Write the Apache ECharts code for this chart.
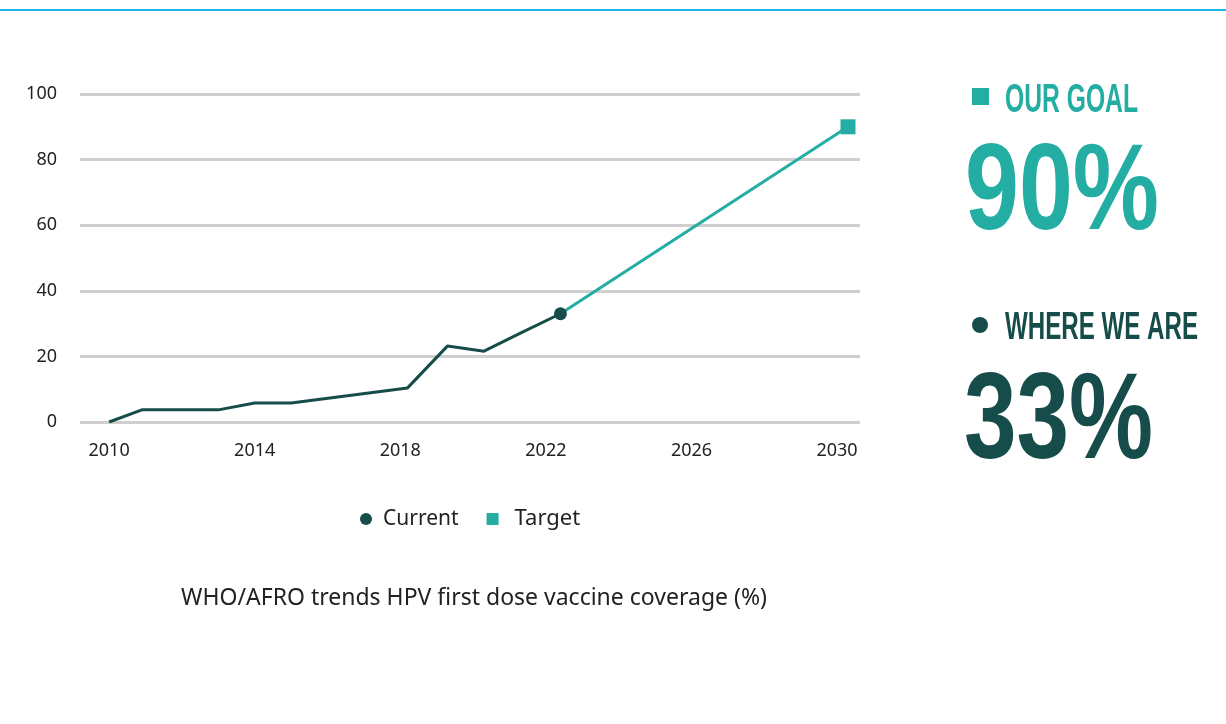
<!DOCTYPE html>
<html>
<head>
<meta charset="utf-8">
<script src="https://cdn.jsdelivr.net/npm/echarts@6/dist/echarts.min.js"></script>
<style>
  html, body { margin: 0; padding: 0; background: #ffffff; }
  #chart { width: 1226px; height: 724px; }
</style>
</head>
<body>
<div id="chart"></div>
<script>
// HPV first dose coverage, WHO/AFRO (%)
const currentYears = [2010, 2010.9, 2013, 2014, 2015, 2018.2, 2019.3, 2020.3, 2021.3, 2022.4];
const currentValues = [0, 3.7, 3.7, 5.8, 5.8, 10.4, 23.2, 21.6, 27.1, 33];
const targetYears = [2022.4, 2030.3];
const targetValues = [33, 90];
const yearTicks = [2010, 2014, 2018, 2022, 2026, 2030];
const seriesNames = ['Current', 'Target'];
const goalValue = 90;
const nowValue = 33;
const captionText = 'WHO/AFRO trends HPV first dose vaccine coverage (%)';

const DARK = '#164d4a';
const TEAL = '#23ada3';
const INK = '#222222';
const BASE_FONT = '"Noto Sans", "Open Sans", sans-serif';

// Squeeze a bold sans into a condensed look by measuring and scaling horizontally
const measureCtx = document.createElement('canvas').getContext('2d');
function fitScale(text, font, width) {
  measureCtx.font = font;
  return width / measureCtx.measureText(text).width;
}
function condensedText(text, x, y, size, width, color) {
  const font = 'bold ' + size + 'px "Liberation Sans", Arial, sans-serif';
  return {
    type: 'text',
    x: x,
    y: y,
    scaleX: fitScale(text, font, width),
    style: {
      text: text,
      font: font,
      fill: color,
      align: 'left',
      verticalAlign: 'middle'
    }
  };
}

const chart = echarts.init(document.getElementById('chart'), null, { renderer: 'canvas' });

const pairs = (xs, ys) => xs.map((x, i) => [x, ys[i]]);

chart.setOption({
  animation: false,
  backgroundColor: '#ffffff',
  grid: { left: 80, top: 94, width: 780, height: 328, containLabel: false },
  xAxis: {
    type: 'value',
    min: 2009.2,
    max: 2030.63,
    axisLine: { show: false },
    axisTick: { show: false },
    splitLine: { show: false },
    axisLabel: {
      customValues: yearTicks,
      formatter: v => String(v),
      color: INK,
      fontSize: 18,
      fontFamily: BASE_FONT,
      margin: 20
    }
  },
  yAxis: {
    type: 'value',
    min: 0,
    max: 100,
    interval: 20,
    axisLine: { show: false },
    axisTick: { show: false },
    axisLabel: {
      color: INK,
      fontSize: 18,
      fontFamily: BASE_FONT,
      margin: 23
    },
    splitLine: { lineStyle: { color: '#cfcfcf', width: 3 } }
  },
  legend: {
    left: 355,
    top: 503,
    itemWidth: 12,
    itemHeight: 12,
    itemGap: 28,
    textStyle: { color: INK, fontSize: 21, fontFamily: BASE_FONT, padding: [0, 0, 0, 6] },
    data: [
      { name: seriesNames[0], icon: 'circle', itemStyle: { color: DARK } },
      {
        name: seriesNames[1],
        icon: 'rect',
        itemStyle: { color: TEAL },
        textStyle: { fontSize: 22, padding: [0, 0, 0, 11] }
      }
    ]
  },
  series: [
    {
      name: seriesNames[1],
      type: 'line',
      data: pairs(targetYears, targetValues),
      color: TEAL,
      lineStyle: { color: TEAL, width: 3 },
      itemStyle: { color: TEAL },
      symbol: 'rect',
      showAllSymbol: true,
      symbolSize: (v, p) => (p.dataIndex === targetValues.length - 1 ? 15 : 0),
      z: 2
    },
    {
      name: seriesNames[0],
      type: 'line',
      data: pairs(currentYears, currentValues),
      color: DARK,
      lineStyle: { color: DARK, width: 3 },
      itemStyle: { color: DARK },
      symbol: 'circle',
      showAllSymbol: true,
      symbolSize: (v, p) => (p.dataIndex === currentValues.length - 1 ? 13 : 0),
      z: 3
    }
  ],
  graphic: [
    { type: 'rect', shape: { x: 0, y: 9, width: 1226, height: 2 }, style: { fill: '#1ab7e6' } },
    { type: 'rect', shape: { x: 972, y: 88, width: 17, height: 17 }, style: { fill: TEAL } },
    condensedText('OUR GOAL', 1005, 101, 40, 133, TEAL),
    condensedText(goalValue + '%', 965, 195, 122, 194, TEAL),
    { type: 'circle', shape: { cx: 980, cy: 325, r: 8 }, style: { fill: DARK } },
    condensedText('WHERE WE ARE', 1005, 329, 38, 193, DARK),
    condensedText(nowValue + '%', 964, 424, 122, 189, DARK),
    {
      type: 'text',
      x: 474,
      y: 598,
      style: {
        text: captionText,
        font: '23px ' + BASE_FONT,
        fill: INK,
        align: 'center',
        verticalAlign: 'middle'
      }
    }
  ]
});
</script>
</body>
</html>
